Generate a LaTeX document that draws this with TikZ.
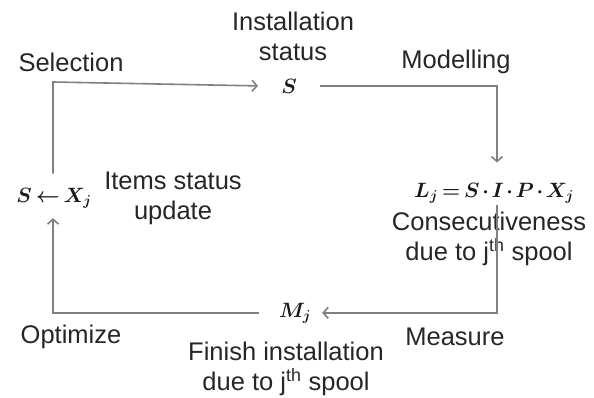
\documentclass[tikz,border=0pt]{standalone}
\usepackage{fontspec}
\setmainfont{Liberation Sans}
\usetikzlibrary{arrows.meta,calc}
% heavier, tighter maths for the state formulas
\newcommand\statemath{\boldmath\thickmuskip=3mu\relax\medmuskip=2mu\relax}
\begin{document}
\begin{tikzpicture}[x=1pt,y=-1pt,
  txt/.style={font=\fontsize{25.5}{30}\selectfont, text=black!85, align=center, inner sep=0pt},
  mth/.style={font=\fontsize{22.5}{30}\selectfont\statemath, text=black!90, inner sep=0pt, anchor=base},
  arr/.style={draw=black!50, line width=1.6pt, -{Straight Barb[length=5pt,width=11pt]}}]
\useasboundingbox (0,0) rectangle (594,397);

% corners of the cycle
\coordinate (tl) at (53,82);
\coordinate (tr) at (497,82);

% states and labels
\node[txt] (inst) at (293,36) {Installation\\status};
\node[mth] (S) at (289,93) {$S$};
\node[txt] (sel) at (71,62) {Selection};
\node[txt] (mod) at (456,62) {Modelling};
\node[mth] (sx) at (54,202) {$S \leftarrow X_j$};
\node[txt] (items) at (173,198) {Items status\\update};
\node[mth] (L) at (494,197) {$L_j = S\cdot I\cdot P\cdot X_j$};
\node[txt] (cons) at (489,239) {Consecutiveness\\due to j\textsuperscript{th} spool};
\node[mth] (M) at (295,317) {$M_j$};
\node[txt] (opt) at (71,337) {Optimize};
\node[txt] (meas) at (455,337) {Measure};
\node[txt] (fin) at (286,369) {Finish installation\\due to j\textsuperscript{th} spool};

% cycle connectors
\draw[arr] ($(sx.north -| tl)+(0,-14)$) -- (tl) -- ([xshift=-23pt]S.west);
\draw[arr] ([xshift=23pt]S.east) -| ($(L.north -| tr)+(0,-20)$);
\draw[arr] ($(L.south -| tr)+(0,2)$) |- ([xshift=11pt]M.east);
\draw[arr] ([xshift=-20pt]M.west) -| ($(sx.south -| tl)+(0,10)$);
\end{tikzpicture}
\end{document}
